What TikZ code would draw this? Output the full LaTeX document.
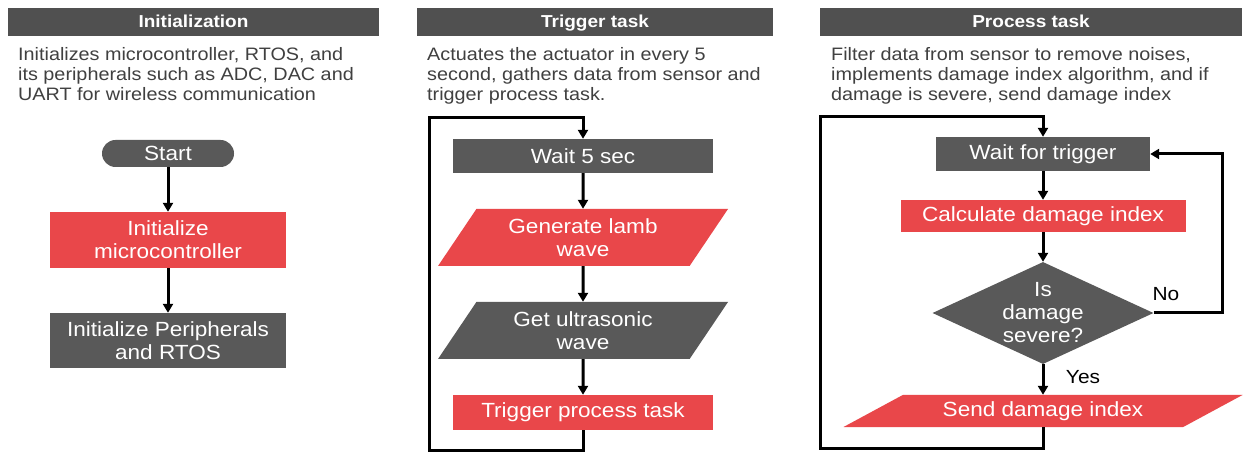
\documentclass[tikz,border=0pt]{standalone}
\usepackage{fontspec}
\setmainfont{Liberation Sans}[FakeStretch=1.1]
\usetikzlibrary{shapes.geometric,arrows.meta}

\definecolor{boxgray}{RGB}{89,89,89}
\definecolor{headgray}{RGB}{80,80,80}
\definecolor{boxred}{RGB}{233,71,74}
\definecolor{descgray}{RGB}{64,64,64}

\tikzset{
	head/.style={fill=headgray,text=white,minimum height=28pt,inner sep=0pt,text height=14pt,text depth=2pt,font=\fontsize{17.3}{20}\selectfont\bfseries},
	desc/.style={anchor=north west,align=left,inner sep=0pt,text=descgray,font=\fontsize{18}{20}\selectfont},
	box/.style={text=white,align=center,inner sep=2pt,font=\fontsize{20.5}{23}\selectfont},
	graybox/.style={box,fill=boxgray},
	redbox/.style={box,fill=boxred},
	iobox/.style={trapezium,trapezium stretches body},
	flow/.style={line width=3pt,-{Triangle[length=9pt,width=10pt]}},
	lbl/.style={font=\fontsize{19}{22}\selectfont}
}

\begin{document}
\begin{tikzpicture}[x=1pt,y=-1pt]
	\fill[white] (0,0) rectangle (1243,454);
	\useasboundingbox (0,0) rectangle (1243,454);

	% column headings
	\node[head,minimum width=371pt] (hinit) at (193.5,22) {Initialization};
	\node[head,minimum width=356pt] (htrig) at (595,22) {Trigger task};
	\node[head,minimum width=422pt] (hproc) at (1031,22) {Process task};

	\node[desc] (dinit) at (18,47) {Initializes microcontroller, RTOS, and\\its peripherals such as ADC, DAC and\\UART for wireless communication};
	\node[desc] (dtrig) at (427,47) {Actuates the actuator in every 5\\second, gathers data from sensor and\\trigger process task.};
	\node[desc] (dproc) at (831,47) {Filter data from sensor to remove noises,\\implements damage index algorithm, and if\\damage is severe, send damage index};

	% initialization
	\node[graybox,minimum width=132pt,minimum height=27pt,rounded corners=13.5pt] (start) at (168,153.5) {Start};
	\node[redbox,minimum width=236pt,minimum height=56pt] (imc) at (168,240) {Initialize\\microcontroller};
	\node[graybox,minimum width=236pt,minimum height=55pt] (iper) at (168,340.5) {Initialize Peripherals\\and RTOS};
	\draw[flow] (start) -- (imc);
	\draw[flow] (imc) -- (iper);

	% trigger task
	\node[graybox,minimum width=260pt,minimum height=34pt] (wait5) at (583,156) {Wait 5 sec};
	\node[redbox,iobox,trapezium left angle=47.6,trapezium right angle=132.4,minimum width=290pt,minimum height=57pt] (lamb) at (583,237.5) {Generate lamb\\wave};
	\node[graybox,iobox,trapezium left angle=47.6,trapezium right angle=132.4,minimum width=290pt,minimum height=57pt] (ultra) at (583,330.5) {Get ultrasonic\\wave};
	\node[redbox,minimum width=260pt,minimum height=35pt] (trig) at (583,412.5) {Trigger process task};
	\coordinate (tbot) at (429,450.5);
	\coordinate (ttop) at (429,118);
	\draw[flow] (wait5) -- (lamb);
	\draw[flow] (lamb) -- (ultra);
	\draw[flow] (ultra) -- (trig);
	\draw[flow] (trig.south) |- (tbot) -- (ttop) -| (wait5.north);

	% process task
	\node[graybox,minimum width=214pt,minimum height=34pt] (waitt) at (1043,154) {Wait for trigger};
	\node[redbox,minimum width=285pt,minimum height=32pt] (calc) at (1043,216) {Calculate damage index};
	\node[graybox,diamond,aspect=2.17,inner sep=0pt,minimum width=221pt,minimum height=102pt] (sev) at (1043,313) {Is\\damage\\severe?};
	\node[redbox,iobox,trapezium left angle=21.3,trapezium right angle=158.7,minimum width=399pt,minimum height=32pt] (send) at (1043,411) {Send damage index};
	\coordinate (pbot) at (820,448);
	\coordinate (ptop) at (820,117);
	\coordinate (nox) at (1222,0);
	\draw[flow] (waitt) -- (calc);
	\draw[flow] (calc) -- (sev);
	\draw[flow] (sev) -- (send);
	\draw[flow] (sev.east) -- (sev.east -| nox) |- (waitt.east);
	\draw[flow] (send.south -| send.center) |- (pbot) -- (ptop) -| (waitt.north);
	\node[lbl] (no) at (1166,294) {No};
	\node[lbl] (yes) at (1083,377) {Yes};
\end{tikzpicture}
\end{document}
